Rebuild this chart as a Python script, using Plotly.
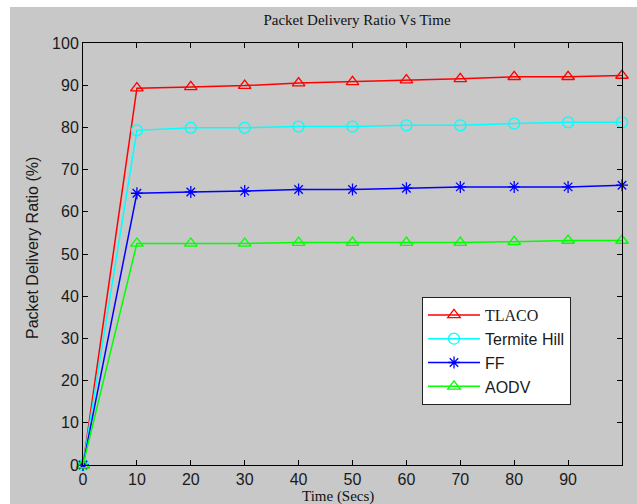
import plotly.graph_objects as go

time = [0, 10, 20, 30, 40, 50, 60, 70, 80, 90, 100]
tlaco = [0, 89.3, 89.6, 89.9, 90.5, 90.8, 91.2, 91.5, 92.0, 92.0, 92.3]
termite = [0, 79.3, 79.9, 79.9, 80.2, 80.2, 80.5, 80.5, 80.9, 81.2, 81.2]
ff = [0, 64.4, 64.7, 64.9, 65.3, 65.3, 65.6, 65.9, 65.9, 65.9, 66.3]
aodv = [0, 52.5, 52.5, 52.5, 52.7, 52.7, 52.7, 52.7, 52.9, 53.2, 53.2]
names = ["<span style=\"font-family:'Liberation Serif',serif\">TLACO</span>", "Termite Hill", "FF", "AODV"]
xticks = [0, 10, 20, 30, 40, 50, 60, 70, 80, 90]
yticks = [0, 10, 20, 30, 40, 50, 60, 70, 80, 90, 100]

series = [tlaco, termite, ff, aodv]
colors = ["#ff0000", "#00ffff", "#0000ff", "#00ff00"]
symbols = ["triangle-up-open", "circle-open", "asterisk-open", "triangle-up-open"]
msizes = [11, 11, 10, 11]

W, H = 637, 504
L, R, T, B = 83, 622, 43, 465

fig = go.Figure()
for ys, nm, c, s, ms in zip(series, names, colors, symbols, msizes):
    fig.add_trace(go.Scatter(
        x=time, y=ys, name=nm, mode="lines+markers",
        line=dict(color=c, width=1.5),
        marker=dict(symbol=s, size=ms, color=c, line=dict(color=c, width=1.3)),
        cliponaxis=False,
    ))

pw, ph = R - L, B - T
def px_x(p):
    return (p - L) / pw
def px_y(p):
    return (B - p) / ph

fig.add_shape(type="rect", xref="paper", yref="paper",
              x0=px_x(10), x1=px_x(W + 20), y0=px_y(H + 20), y1=px_y(7),
              fillcolor="#c8c8c8", line=dict(width=0), layer="below")

fig.update_layout(
    width=W, height=H,
    margin=dict(l=L, r=W - R, t=T, b=H - B, pad=0),
    paper_bgcolor="white",
    plot_bgcolor="white",
    font=dict(family="Liberation Sans, Arial", size=16, color="#1a1a1a"),
    title=dict(text="Packet Delivery Ratio Vs Time", x=357 / W, xanchor="center",
               y=1 - 20 / H, yanchor="middle", yref="container",
               font=dict(family="Liberation Serif, Times New Roman", size=15, color="#111111")),
    showlegend=True,
    legend=dict(x=px_x(422), y=px_y(297), xanchor="left", yanchor="top",
                bgcolor="white", bordercolor="#222222", borderwidth=1,
                font=dict(family="Liberation Sans, Arial", size=16, color="#1a1a1a"),
                itemwidth=52),
    xaxis=dict(range=[0, 100], tickvals=xticks, ticks="inside", ticklen=5,
               tickcolor="black", showline=True, linecolor="black", linewidth=1,
               mirror="ticks", showgrid=False, zeroline=False),
    yaxis=dict(range=[0, 100], tickvals=yticks, ticks="inside", ticklen=5,
               tickcolor="black", showline=True, linecolor="black", linewidth=1,
               mirror="ticks", showgrid=False, zeroline=False),
    annotations=[
        dict(text="Time (Secs)", xref="paper", yref="paper", x=px_x(338), y=px_y(497),
             xanchor="center", yanchor="middle", showarrow=False,
             font=dict(family="Liberation Serif, Times New Roman", size=15, color="#111111")),
        dict(text="Packet Delivery Ratio (%)", xref="paper", yref="paper", x=px_x(33), y=px_y(248),
             xanchor="center", yanchor="middle", textangle=-90, showarrow=False,
             font=dict(family="Liberation Sans, Arial", size=16, color="#1a1a1a")),
    ],
)

fig.write_html("out.html")
